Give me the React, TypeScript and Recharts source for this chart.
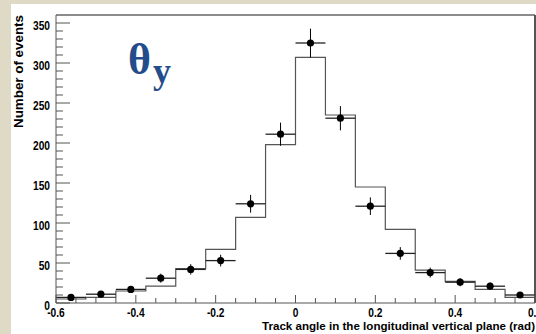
import React from "react";
import {
  ComposedChart,
  Line,
  Scatter,
  ErrorBar,
  XAxis,
  YAxis,
  ReferenceLine,
} from "recharts";

// 16 bins of 0.075 rad between -0.6 and 0.6
const binLeftEdges = [
  -0.6, -0.525, -0.45, -0.375, -0.3, -0.225, -0.15, -0.075, 0, 0.075, 0.15,
  0.225, 0.3, 0.375, 0.45, 0.525,
];
const binCenters = [
  -0.5625, -0.4875, -0.4125, -0.3375, -0.2625, -0.1875, -0.1125, -0.0375,
  0.0375, 0.1125, 0.1875, 0.2625, 0.3375, 0.4125, 0.4875, 0.5625,
];
const binHalfWidth = 0.0375;

// simulated histogram
const simCounts = [5, 7, 15, 21, 43, 67, 107, 198, 307, 235, 145, 92, 41, 27, 17, 7];
// measured events and their errors
const dataCounts = [7, 11, 17, 31, 42, 53, 124, 211, 325, 231, 121, 62, 38, 26, 21, 10];
const dataErrors = [2.6, 3.3, 4.1, 5.6, 6.5, 7.3, 11.1, 14.5, 18, 15.2, 11, 7.9, 6.2, 5.1, 4.6, 3.2];

const yMajorLabels = [0, 50, 100, 150, 200, 250, 300, 350];
const xMajorLabels = ["-0.6", "-0.4", "-0.2", "0", "0.2", "0.4", "0.6"];

const yTicks = Array.from({ length: 36 }, (_, i) => i * 10);
const xTicks = Array.from({ length: 25 }, (_, i) => Math.round((-0.6 + i * 0.05) * 100) / 100);

const histData = [
  ...binLeftEdges.map((x, i) => ({ x, sim: simCounts[i] })),
  { x: 0.6, sim: simCounts[simCounts.length - 1] },
];

const pointData = binCenters.map((x, i) => ({
  x,
  y: dataCounts[i],
  ex: binHalfWidth,
  ey: dataErrors[i],
}));

const axisColor = "#555";
const labelFont = "'Liberation Sans', Arial, sans-serif";

const YTick = (props: any) => {
  const { x, y, payload } = props;
  const v = payload.value as number;
  const major = yMajorLabels.includes(v);
  return (
    <g>
      <line x1={x} x2={x + (major ? 14 : 7)} y1={y} y2={y} stroke={axisColor} strokeWidth={1} />
      {major && (
        <text
          transform={`translate(${x - 6},${y + 6.5}) scale(0.85,1)`}
          textAnchor="end"
          fontFamily={labelFont}
          fontWeight="bold"
          fontSize={12}
          fill="#000"
        >
          {v}
        </text>
      )}
    </g>
  );
};

const XTick = (props: any) => {
  const { x, y, payload } = props;
  const v = payload.value as number;
  const label = xMajorLabels.find((l) => Math.abs(parseFloat(l) - v) < 1e-6);
  return (
    <g>
      <line x1={x} x2={x} y1={y} y2={y - (label ? 8 : 5)} stroke={axisColor} strokeWidth={1} />
      {label && (
        <text
          transform={`translate(${x},${y + 14}) scale(0.85,1)`}
          textAnchor="middle"
          fontFamily={labelFont}
          fontWeight="bold"
          fontSize={12}
          fill="#000"
        >
          {label}
        </text>
      )}
    </g>
  );
};

const Dot = (props: any) => <circle cx={props.cx} cy={props.cy} r={3.6} fill="#000" />;

export default function App() {
  return (
    <div
      style={{
        position: "absolute",
        left: 0,
        top: 0,
        width: 536,
        height: 334,
        background: "#dedac6",
      }}
    >
      <div
        style={{ position: "absolute", left: 11, top: 4, right: 0, bottom: 0, background: "#fff" }}
      />
      <ComposedChart
        width={536}
        height={334}
        margin={{ top: 15, right: 1, bottom: 0, left: 0 }}
        style={{ position: "absolute", left: 0, top: 0 }}
      >
        <XAxis
          type="number"
          dataKey="x"
          domain={[-0.6, 0.6]}
          ticks={xTicks}
          interval={0}
          allowDataOverflow
          tickSize={0}
          tickMargin={0}
          tickLine={false}
          tick={<XTick />}
          axisLine={{ stroke: axisColor, strokeWidth: 1 }}
          height={31}
        />
        <YAxis
          type="number"
          domain={[0, 360]}
          ticks={yTicks}
          interval={0}
          allowDataOverflow
          tickSize={0}
          tickMargin={0}
          tickLine={false}
          tick={<YTick />}
          axisLine={{ stroke: axisColor, strokeWidth: 1 }}
          width={56}
        />
        <ReferenceLine y={360} stroke="#666" strokeWidth={1.5} />
        <ReferenceLine x={0.6} stroke="#555" strokeWidth={2} />
        <Line
          data={histData}
          dataKey="sim"
          type="stepAfter"
          stroke="#555"
          strokeWidth={1.2}
          dot={false}
          activeDot={false}
          isAnimationActive={false}
        />
        <Scatter data={pointData} dataKey="y" shape={<Dot />} isAnimationActive={false}>
          <ErrorBar dataKey="ex" direction="x" width={0} stroke="#222" strokeWidth={1.3} />
          <ErrorBar dataKey="ey" direction="y" width={0} stroke="#000" strokeWidth={1} />
        </Scatter>
      </ComposedChart>
      <svg
        width={536}
        height={334}
        style={{ position: "absolute", left: 0, top: 0, pointerEvents: "none" }}
      >
        <text
          transform="translate(23,128) rotate(-90)"
          fontFamily={labelFont}
          fontWeight="bold"
          fontSize={12}
          textLength={113}
          lengthAdjust="spacingAndGlyphs"
          fill="#000"
        >
          Number of events
        </text>
        <text
          x={535}
          y={329.5}
          textAnchor="end"
          fontFamily={labelFont}
          fontWeight="bold"
          fontSize={11}
          textLength={273}
          lengthAdjust="spacingAndGlyphs"
          fill="#000"
        >
          Track angle in the longitudinal vertical plane (rad)
        </text>
        <text fontFamily="'Liberation Serif', 'Times New Roman', serif" fontWeight="bold" fill="#234d8a">
          <tspan x={128} y={74} fontSize={44}>
            θ
          </tspan>
          <tspan x={153} y={83} fontSize={36}>
            y
          </tspan>
        </text>
      </svg>
    </div>
  );
}
